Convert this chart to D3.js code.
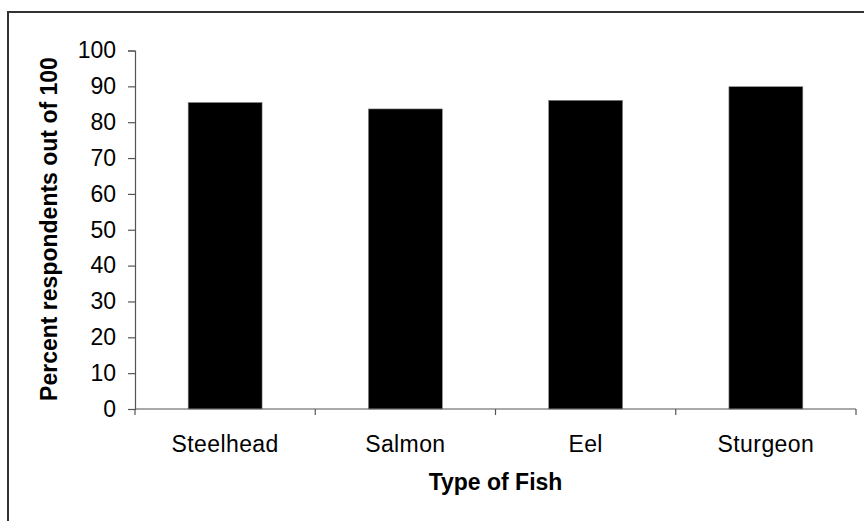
<!DOCTYPE html>
<html>
<head>
<meta charset="utf-8">
<script src="https://cdn.jsdelivr.net/npm/d3@7"></script>
<style>
html, body { margin: 0; padding: 0; background: #fff; }
svg { display: block; font-family: "Liberation Sans", Arial, sans-serif; }
</style>
</head>
<body>
<svg id="chart" width="864" height="521"></svg>
<script>
const categories = ["Steelhead", "Salmon", "Eel", "Sturgeon"];
const values = [85.5, 83.7, 86.1, 89.9];
const yTicks = [0, 10, 20, 30, 40, 50, 60, 70, 80, 90, 100];
const xTitle = "Type of Fish";
const yTitle = "Percent respondents out of 100";

(function () {
const svg = d3.select("#chart");
const W = 864, H = 521;
const mLeft = 135, mRight = 856, mTop = 50.5, mBottom = 409;

// outer frame
svg.append("rect")
  .attr("x", 8).attr("y", 12)
  .attr("width", W + 10).attr("height", H + 10)
  .attr("fill", "none").attr("stroke", "#333").attr("stroke-width", 2);

const x = d3.scaleBand().domain(categories).range([mLeft, mRight]).paddingInner(0.59).paddingOuter(0.295);
const xb = d3.scaleBand().domain(categories).range([mLeft, mRight]);
const y = d3.scaleLinear().domain([0, 100]).range([mBottom, mTop]);

// bars
svg.append("g").selectAll("rect").data(categories).join("rect")
  .attr("x", d => x(d))
  .attr("y", (d, i) => y(values[i]))
  .attr("width", x.bandwidth())
  .attr("height", (d, i) => y(0) - y(values[i]))
  .attr("fill", "#000")
  .attr("stroke", "#888").attr("stroke-width", 0.6);

// y axis
const yAxis = svg.append("g").attr("transform", `translate(${mLeft},0)`)
  .call(d3.axisLeft(y).tickValues(yTicks).tickSize(7).tickPadding(12).tickFormat(d3.format("d")));
yAxis.select(".domain").attr("stroke", "#555").attr("stroke-width", 1.2);
yAxis.selectAll(".tick line").attr("stroke", "#555").attr("stroke-width", 1.2);
yAxis.selectAll("text").attr("font-size", 23).attr("fill", "#000").attr("font-family", "Liberation Sans, Arial, sans-serif");

// x axis (ticks at band boundaries)
const xAxisG = svg.append("g").attr("transform", `translate(0,${mBottom})`);
xAxisG.append("line").attr("x1", mLeft).attr("x2", mRight).attr("y1", 0).attr("y2", 0)
  .attr("stroke", "#555").attr("stroke-width", 1.2);
const boundaries = categories.map(d => xb(d)).concat([xb(categories[categories.length - 1]) + xb.bandwidth()]);
xAxisG.selectAll("line.tk").data(boundaries).join("line").attr("class", "tk")
  .attr("x1", d => d).attr("x2", d => d).attr("y1", 0).attr("y2", 6)
  .attr("stroke", "#555").attr("stroke-width", 1.2);
xAxisG.selectAll("text").data(categories).join("text")
  .attr("x", d => xb(d) + xb.bandwidth() / 2)
  .attr("y", 43)
  .attr("text-anchor", "middle")
  .attr("font-size", 23)
  .attr("letter-spacing", 0.4)
  .attr("fill", "#000")
  .text(d => d);

// titles
svg.append("text")
  .attr("x", (mLeft + mRight) / 2).attr("y", 490)
  .attr("text-anchor", "middle")
  .attr("font-size", 23).attr("font-weight", "bold")
  .text(xTitle);

svg.append("text")
  .attr("transform", `translate(57,229) rotate(-90)`)
  .attr("text-anchor", "middle")
  .attr("font-size", 23).attr("font-weight", "bold")
  .text(yTitle);
})();
</script>
</body>
</html>
